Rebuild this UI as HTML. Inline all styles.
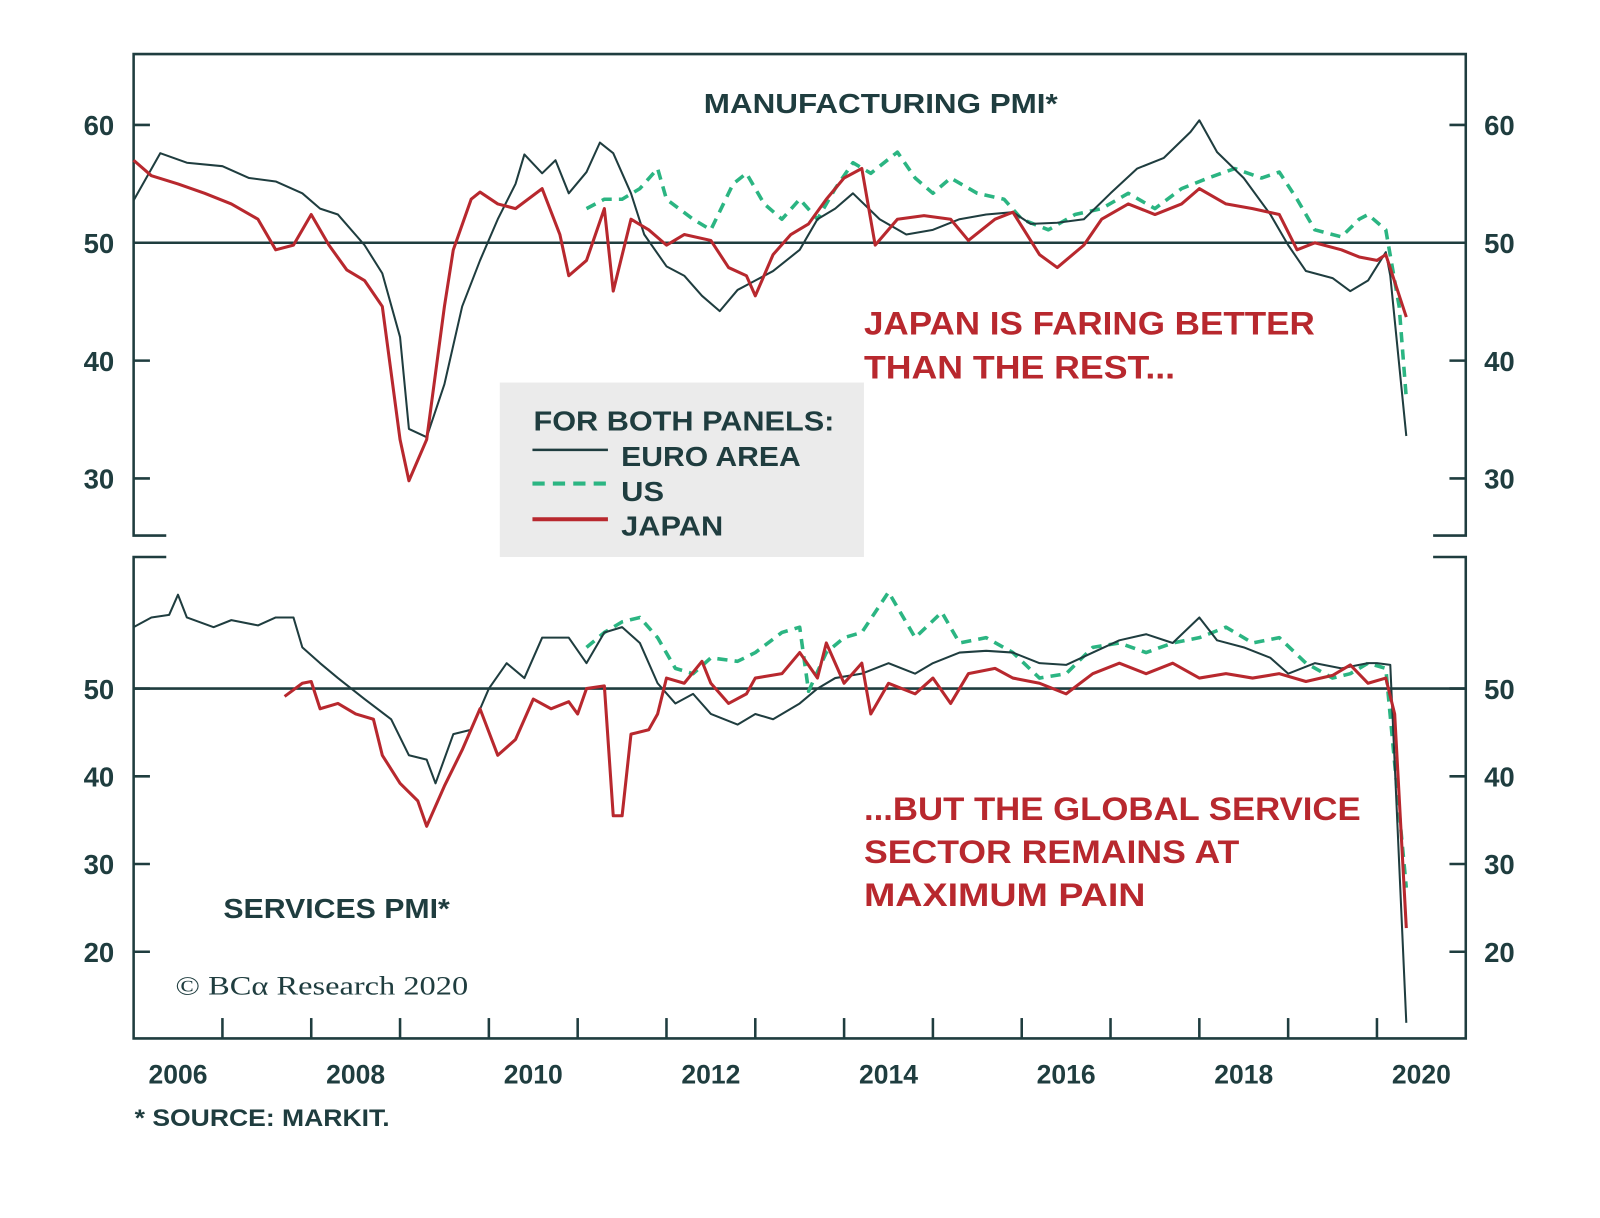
<!DOCTYPE html>
<html><head><meta charset="utf-8"><style>
html,body{margin:0;padding:0;background:#fff;}
svg{display:block;}
text{font-family:"Liberation Sans",sans-serif;font-weight:bold;}
</style></head><body>
<svg id="chart" width="1600" height="1218" viewBox="0 0 1568.6 1194" preserveAspectRatio="none" xmlns="http://www.w3.org/2000/svg">
<rect x="490" y="375" width="357" height="171" fill="#ebebeb"/>
<g id="frame" stroke="#1f3d3f" stroke-width="2.5" fill="none"></g>
<g id="lines"></g>
<g id="labels" fill="#1f3d3f"></g>
<text x="690" y="111" font-size="27" fill="#1f3d3f" textLength="347" lengthAdjust="spacingAndGlyphs">MANUFACTURING PMI*</text>
<text x="219" y="900" font-size="27" fill="#1f3d3f" textLength="222" lengthAdjust="spacingAndGlyphs">SERVICES PMI*</text>
<text x="847" y="328" font-size="32" fill="#b8282e" textLength="442" lengthAdjust="spacingAndGlyphs">JAPAN IS FARING BETTER</text>
<text x="847" y="371" font-size="32" fill="#b8282e" textLength="305" lengthAdjust="spacingAndGlyphs">THAN THE REST...</text>
<text x="847" y="804" font-size="32" fill="#b8282e" textLength="487" lengthAdjust="spacingAndGlyphs">...BUT THE GLOBAL SERVICE</text>
<text x="847" y="846" font-size="32" fill="#b8282e" textLength="368" lengthAdjust="spacingAndGlyphs">SECTOR REMAINS AT</text>
<text x="847" y="888" font-size="32" fill="#b8282e" textLength="276" lengthAdjust="spacingAndGlyphs">MAXIMUM PAIN</text>
<text x="523" y="422" font-size="27" fill="#1f3d3f" textLength="295" lengthAdjust="spacingAndGlyphs">FOR BOTH PANELS:</text>
<g><line x1="522" y1="441" x2="596" y2="441" stroke="#1f3d3f" stroke-width="2.5"/><text x="609" y="457" font-size="27" fill="#1f3d3f" textLength="176" lengthAdjust="spacingAndGlyphs">EURO AREA</text></g>
<g><line x1="522" y1="474" x2="596" y2="474" stroke="#2bb582" stroke-width="4" stroke-dasharray="12,8"/><text x="609" y="491" font-size="27" fill="#1f3d3f" textLength="42" lengthAdjust="spacingAndGlyphs">US</text></g>
<g><line x1="522" y1="509" x2="596" y2="509" stroke="#b8282e" stroke-width="4"/><text x="609" y="525" font-size="27" fill="#1f3d3f" textLength="100" lengthAdjust="spacingAndGlyphs">JAPAN</text></g>
<text x="172" y="975" font-size="26" fill="#1f3d3f" style="font-family:'Liberation Serif',serif;font-weight:normal" textLength="287" lengthAdjust="spacingAndGlyphs">© BCα Research 2020</text>
<text x="132" y="1104" font-size="24" fill="#1f3d3f" textLength="250" lengthAdjust="spacingAndGlyphs">* SOURCE: MARKIT.</text>
</svg>
<script>
// ---- data ----
const euroMfgT=[2006.0,2006.3,2006.6,2007.0,2007.3,2007.6,2007.9,2008.1,2008.3,2008.6,2008.8,2009.0,2009.1,2009.3,2009.5,2009.7,2009.9,2010.1,2010.3,2010.4,2010.6,2010.75,2010.9,2011.1,2011.25,2011.4,2011.6,2011.75,2012.0,2012.2,2012.4,2012.6,2012.8,2013.0,2013.2,2013.5,2013.7,2013.9,2014.1,2014.4,2014.7,2015.0,2015.3,2015.6,2015.9,2016.1,2016.4,2016.7,2017.0,2017.3,2017.6,2017.9,2018.0,2018.2,2018.5,2018.8,2019.0,2019.2,2019.5,2019.7,2019.9,2020.1,2020.15,2020.33];
const euroMfgV=[53.6,57.6,56.8,56.5,55.5,55.2,54.2,52.9,52.4,49.8,47.4,42,34.2,33.5,38,44.6,48.5,52,55,57.5,55.9,57,54.2,56,58.5,57.6,54.2,50.7,48,47.2,45.5,44.2,46,46.8,47.6,49.4,52,52.9,54.2,52,50.7,51.1,52,52.4,52.6,51.6,51.7,52,54.2,56.3,57.2,59.4,60.4,57.7,55.5,52.4,49.8,47.6,47,45.9,46.8,49.2,47.2,33.6];
const usMfgT=[2011.1,2011.3,2011.5,2011.7,2011.9,2012.0,2012.3,2012.5,2012.75,2012.9,2013.1,2013.3,2013.5,2013.7,2013.9,2014.1,2014.3,2014.6,2014.8,2015.0,2015.2,2015.5,2015.8,2016.0,2016.3,2016.6,2016.9,2017.2,2017.5,2017.8,2018.1,2018.4,2018.7,2018.9,2019.1,2019.3,2019.6,2019.8,2019.9,2020.1,2020.25,2020.33];
const usMfgV=[52.9,53.7,53.7,54.6,56.3,53.7,52,51.1,55,55.9,53.3,52,53.7,52,54.6,56.8,55.9,57.7,55.5,54.2,55.5,54.2,53.7,52,51.1,52.4,52.9,54.2,52.9,54.6,55.5,56.3,55.5,56,53.7,51.1,50.5,52,52.4,51.1,44.6,36.8];
const jpMfgT=[2006.0,2006.2,2006.5,2006.8,2007.1,2007.4,2007.6,2007.8,2008.0,2008.2,2008.4,2008.6,2008.8,2009.0,2009.1,2009.3,2009.5,2009.6,2009.8,2009.9,2010.1,2010.3,2010.6,2010.8,2010.9,2011.1,2011.3,2011.4,2011.6,2011.8,2012.0,2012.2,2012.5,2012.7,2012.9,2013.0,2013.2,2013.4,2013.6,2013.8,2014.0,2014.2,2014.35,2014.6,2014.9,2015.2,2015.4,2015.7,2015.9,2016.2,2016.4,2016.7,2016.9,2017.2,2017.5,2017.8,2018.0,2018.3,2018.6,2018.9,2019.1,2019.3,2019.6,2019.8,2020.0,2020.1,2020.33];
const jpMfgV=[57,55.7,55,54.2,53.3,52,49.4,49.8,52.4,49.8,47.7,46.8,44.6,33.3,29.8,33.3,44.6,49.4,53.7,54.3,53.3,52.9,54.6,50.7,47.2,48.5,52.9,45.9,52,51.1,49.8,50.7,50.2,47.9,47.2,45.5,49,50.7,51.6,53.7,55.5,56.3,49.8,52,52.3,52,50.2,52,52.6,49,47.9,49.8,52,53.3,52.4,53.3,54.6,53.3,52.9,52.4,49.4,50,49.4,48.8,48.5,49,43.7];
const euroSvcT=[2006.0,2006.2,2006.4,2006.5,2006.6,2006.9,2007.1,2007.4,2007.6,2007.8,2007.9,2008.1,2008.3,2008.6,2008.9,2009.1,2009.3,2009.4,2009.6,2009.8,2010.0,2010.2,2010.4,2010.6,2010.9,2011.1,2011.3,2011.5,2011.7,2011.9,2012.1,2012.3,2012.5,2012.8,2013.0,2013.2,2013.5,2013.7,2013.9,2014.2,2014.5,2014.8,2015.0,2015.3,2015.6,2015.9,2016.2,2016.5,2016.8,2017.1,2017.4,2017.7,2018.0,2018.2,2018.5,2018.8,2019.0,2019.3,2019.6,2019.9,2020.0,2020.15,2020.33];
const euroSvcV=[57,58.1,58.4,60.7,58.1,57,57.8,57.2,58.1,58.1,54.7,52.9,51.2,48.8,46.5,42.4,41.9,39.2,44.8,45.3,50,52.9,51.2,55.8,55.8,52.9,56.4,57,55.2,50.6,48.3,49.4,47.1,45.9,47.1,46.5,48.3,50,51.2,51.7,52.9,51.7,52.9,54.1,54.3,54.1,52.9,52.7,54.1,55.5,56.2,55.2,58.1,55.5,54.7,53.5,51.7,52.9,52.3,52.9,52.9,52.7,11.9];
const usSvcT=[2011.1,2011.3,2011.5,2011.7,2011.9,2012.1,2012.3,2012.5,2012.8,2013.0,2013.3,2013.5,2013.6,2013.8,2014.0,2014.2,2014.5,2014.8,2015.1,2015.3,2015.6,2015.9,2016.2,2016.5,2016.8,2017.1,2017.4,2017.7,2018.0,2018.3,2018.6,2018.9,2019.2,2019.5,2019.7,2019.9,2020.1,2020.33];
const usSvcV=[54.7,56.4,57.6,58.1,55.8,52.3,51.7,53.5,53.1,54.1,56.4,57,49.7,54.1,55.8,56.4,61,55.8,58.7,55.2,55.8,54.1,51.2,51.7,54.7,55.2,54.1,55.2,55.8,57,55.2,55.8,52.9,51.2,51.7,52.9,52.3,27.3];
const jpSvcT=[2007.7,2007.9,2008.0,2008.1,2008.3,2008.5,2008.7,2008.8,2009.0,2009.2,2009.3,2009.5,2009.7,2009.9,2010.1,2010.3,2010.5,2010.7,2010.9,2011.0,2011.1,2011.3,2011.4,2011.5,2011.6,2011.8,2011.9,2012.0,2012.2,2012.4,2012.5,2012.7,2012.9,2013.0,2013.3,2013.5,2013.7,2013.8,2014.0,2014.2,2014.3,2014.5,2014.8,2015.0,2015.2,2015.4,2015.7,2015.9,2016.2,2016.5,2016.8,2017.1,2017.4,2017.7,2018.0,2018.3,2018.6,2018.9,2019.2,2019.5,2019.7,2019.9,2020.1,2020.2,2020.33];
const jpSvcV=[49.1,50.6,50.8,47.7,48.3,47.1,46.5,42.4,39.2,37.2,34.3,38.9,43,47.7,42.4,44.2,48.8,47.7,48.5,47.1,50,50.3,35.5,35.5,44.8,45.3,47.1,51.2,50.6,53.1,50.6,48.3,49.4,51.2,51.7,54.1,51.2,55.2,50.6,52.9,47.1,50.6,49.4,51.2,48.3,51.7,52.3,51.2,50.6,49.4,51.7,52.9,51.7,52.9,51.2,51.7,51.2,51.7,50.8,51.5,52.7,50.6,51.2,47.1,22.7];
const years=[2006,2008,2010,2012,2014,2016,2018,2020];
const mfgTicks=[30,40,50,60];
const svcTicks=[20,30,40,50];

// ---- axes ----
const X0=131,X1=1437;
const xs=t=>X0+(t-2006)*(X1-X0)/15;
const yMfg=v=>238-(v-50)*11.55;
const ySvc=v=>675-(v-50)*8.6;
const NS="http://www.w3.org/2000/svg";
function mk(tag,attrs,parent){const e=document.createElementNS(NS,tag);for(const k in attrs)e.setAttribute(k,attrs[k]);parent.appendChild(e);return e;}
const frame=document.getElementById('frame'),lines=document.getElementById('lines'),labels=document.getElementById('labels');

// frames
let f1=mk('path',{d:`M163,525 L131,525 L131,53 L1437,53 L1437,525 L1405,525`},frame);


let f2=mk('path',{d:`M163,546 L131,546 L131,1018 L1437,1018 L1437,546 L1405,546`},frame);


let z1=mk('line',{x1:X0,x2:X1,y1:yMfg(50),y2:yMfg(50),'stroke-width':2.5},frame);


let z2=mk('line',{x1:X0,x2:X1,y1:ySvc(50),y2:ySvc(50),'stroke-width':2.5},frame);



function yTicks(vals,yf,panel){
  vals.forEach(v=>{
    const y=yf(v);
    mk('line',{x1:X0,x2:X0+16,y1:y,y2:y},frame);
    mk('line',{x1:X1-16,x2:X1,y1:y,y2:y},frame);
    const l=mk('text',{x:97,y:y+10,'font-size':27,'text-anchor':'middle'},labels);
    l.textContent=v;
    
    
    const r=mk('text',{x:1470,y:y+10,'font-size':27,'text-anchor':'middle'},labels);
    r.textContent=v;
    
    
  });
}
yTicks(mfgTicks,yMfg,'mfg');
yTicks(svcTicks,ySvc,'svc');
for(let yr=2007;yr<=2020;yr++){mk('line',{x1:xs(yr),x2:xs(yr),y1:1018,y2:998},frame);}
years.forEach(yr=>{
  const t=mk('text',{x:xs(yr+0.5),y:1062,'font-size':26,'text-anchor':'middle'},labels);
  t.textContent=yr;
  
  
});

function series(T,V,yf,color,w,dash,name){
  const d=T.map((t,i)=>(i?'L':'M')+xs(t).toFixed(1)+','+yf(V[i]).toFixed(1)).join(' ');
  const p=mk('path',{d:d,fill:'none',stroke:color,'stroke-width':w,'stroke-linejoin':'round'},lines);
  if(dash)p.setAttribute('stroke-dasharray',dash);
  
  
}
series(usMfgT,usMfgV,yMfg,'#2bb582',3.5,'10,7','us-manufacturing-line');
series(euroMfgT,euroMfgV,yMfg,'#1f3d3f',2,null,'euro-manufacturing-line');
series(jpMfgT,jpMfgV,yMfg,'#b8282e',3,null,'japan-manufacturing-line');
series(usSvcT,usSvcV,ySvc,'#2bb582',3.5,'10,7','us-services-line');
series(euroSvcT,euroSvcV,ySvc,'#1f3d3f',2,null,'euro-services-line');
series(jpSvcT,jpSvcV,ySvc,'#b8282e',3,null,'japan-services-line');
</script>
</body></html>
